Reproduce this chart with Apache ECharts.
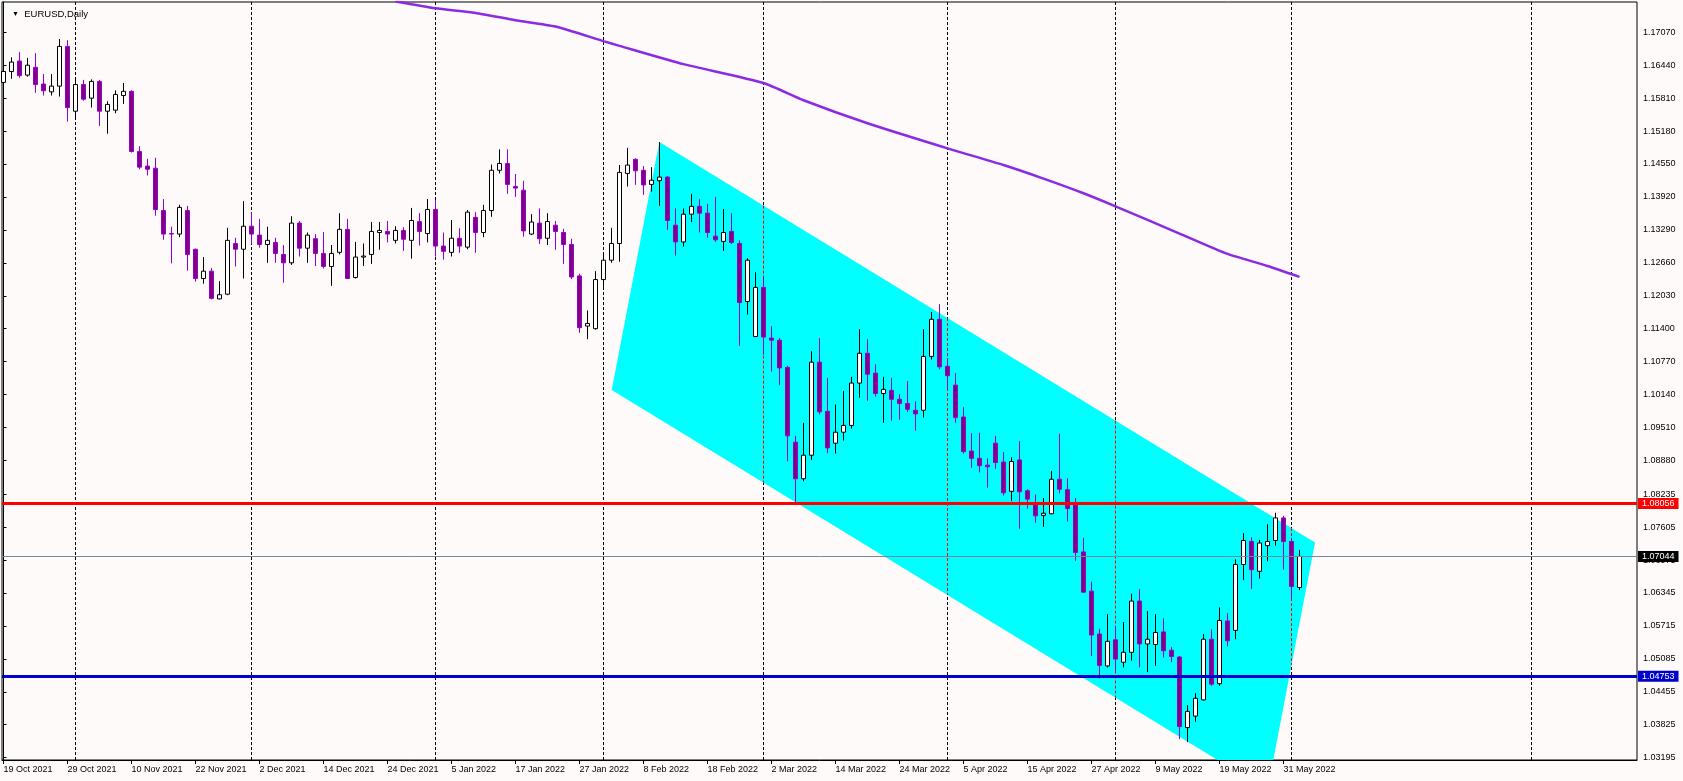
<!DOCTYPE html>
<html>
<head>
<meta charset="utf-8">
<script src="https://cdn.jsdelivr.net/npm/echarts@6/dist/echarts.min.js"></script>
<style>
html,body{margin:0;padding:0;background:#FFFAFA;}
#chart{width:1683px;height:781px;}
</style>
</head>
<body>
<div id="chart"></div>
<script>
// ---- data ----
const symbolTitle = 'EURUSD,Daily';
const dateLabels = ['19 Oct 2021','29 Oct 2021','10 Nov 2021','22 Nov 2021','2 Dec 2021','14 Dec 2021','24 Dec 2021','5 Jan 2022','17 Jan 2022','27 Jan 2022','8 Feb 2022','18 Feb 2022','2 Mar 2022','14 Mar 2022','24 Mar 2022','5 Apr 2022','15 Apr 2022','27 Apr 2022','9 May 2022','19 May 2022','31 May 2022'];
const labelEvery = 8;
const priceTicks = [1.17070,1.16440,1.15810,1.15180,1.14550,1.13920,1.13290,1.12660,1.12030,1.11400,1.10770,1.10140,1.09510,1.08880,1.08235,1.07605,1.06975,1.06345,1.05715,1.05085,1.04455,1.03825,1.03195];

const open = [1.1611,1.1632,1.1652,1.1625,1.1640,1.1608,1.1593,1.1604,1.1680,1.1556,
1.1607,1.1581,1.1613,1.1556,1.1558,1.1586,1.1594,1.1479,1.1451,1.1447,
1.1366,1.1322,1.1321,1.1366,1.1292,1.1236,1.1250,1.1197,1.1206,1.1303,
1.1292,1.1336,1.1319,1.1301,1.1305,1.1282,1.1266,1.1342,1.1294,1.1312,
1.1284,1.1259,1.1286,1.1330,1.1238,1.1277,1.1282,1.1324,1.1326,1.1309,
1.1328,1.1309,1.1345,1.1322,1.1368,1.1298,1.1286,1.1313,1.1296,1.1353,
1.1324,1.1366,1.1443,1.1456,1.1412,1.1405,1.1321,1.1342,1.1313,1.1338,
1.1324,1.1301,1.1241,1.1145,1.1140,1.1234,1.1271,1.1303,1.1437,1.1464,
1.1443,1.1416,1.1423,1.1430,1.1338,1.1306,1.1359,1.1374,1.1361,1.1317,
1.1307,1.1326,1.1303,1.1192,1.1125,1.1219,1.1122,1.1118,1.1066,1.0923,
1.0853,1.0898,1.1076,1.0982,1.0921,1.0942,1.0955,1.1036,1.1093,1.1055,
1.1016,1.1022,1.1005,1.0997,1.0984,1.0984,1.1087,1.1158,1.1068,1.1032,
1.0971,1.0906,1.0892,1.0879,1.0921,1.0885,1.0829,1.0889,1.0830,1.0805,
1.0783,1.0786,1.0852,1.0832,1.0807,1.0713,1.0638,1.0556,1.0495,1.0545,
1.0502,1.0521,1.0619,1.0537,1.0536,1.0560,1.0525,1.0512,1.0377,1.0399,
1.0430,1.0546,1.0461,1.0581,1.0563,1.0689,1.0733,1.0676,1.0725,1.0735,
1.0778,1.0733,1.0645];
const high = [1.1671,1.1659,1.1669,1.1658,1.1667,1.1627,1.1627,1.1694,1.1692,1.1616,
1.1616,1.1617,1.1616,1.1575,1.1596,1.1610,1.1596,1.1489,1.1465,1.1467,
1.1388,1.1335,1.1377,1.1375,1.1293,1.1277,1.1256,1.1231,1.1333,1.1314,
1.1384,1.1362,1.1350,1.1335,1.1314,1.1300,1.1355,1.1346,1.1324,1.1321,
1.1325,1.1300,1.1361,1.1350,1.1306,1.1303,1.1344,1.1344,1.1346,1.1336,
1.1334,1.1371,1.1361,1.1388,1.1386,1.1324,1.1348,1.1332,1.1367,1.1363,
1.1377,1.1454,1.1483,1.1483,1.1436,1.1423,1.1359,1.1370,1.1361,1.1346,
1.1331,1.1312,1.1245,1.1175,1.1250,1.1282,1.1333,1.1453,1.1486,1.1466,
1.1451,1.1449,1.1497,1.1432,1.1370,1.1370,1.1398,1.1388,1.1379,1.1392,
1.1369,1.1361,1.1309,1.1275,1.1248,1.1237,1.1145,1.1122,1.1069,1.0935,
1.0960,1.1097,1.1122,1.1046,1.0995,1.1021,1.1048,1.1139,1.1120,1.1072,
1.1048,1.1046,1.1015,1.1040,1.1001,1.1139,1.1172,1.1187,1.1078,1.1055,
1.0990,1.0940,1.0941,1.0892,1.0935,1.0904,1.0894,1.0925,1.0833,1.0823,
1.0816,1.0868,1.0939,1.0854,1.0816,1.0740,1.0656,1.0566,1.0594,1.0570,
1.0579,1.0633,1.0642,1.0600,1.0594,1.0586,1.0531,1.0514,1.0420,1.0443,
1.0556,1.0565,1.0607,1.0596,1.0699,1.0749,1.0741,1.0736,1.0766,1.0788,
1.0782,1.0740,1.0717];
const low = [1.1609,1.1618,1.1620,1.1622,1.1591,1.1586,1.1586,1.1584,1.1536,1.1542,
1.1576,1.1563,1.1528,1.1513,1.1552,1.1570,1.1477,1.1445,1.1433,1.1356,
1.1310,1.1265,1.1315,1.1251,1.1230,1.1226,1.1196,1.1196,1.1204,1.1259,
1.1236,1.1302,1.1295,1.1266,1.1266,1.1228,1.1262,1.1278,1.1266,1.1260,
1.1255,1.1222,1.1282,1.1235,1.1236,1.1260,1.1264,1.1291,1.1305,1.1303,
1.1289,1.1274,1.1299,1.1305,1.1278,1.1272,1.1278,1.1285,1.1292,1.1285,
1.1315,1.1354,1.1437,1.1398,1.1392,1.1316,1.1319,1.1302,1.1300,1.1291,
1.1264,1.1235,1.1132,1.1120,1.1138,1.1220,1.1266,1.1268,1.1412,1.1415,
1.1396,1.1402,1.1375,1.1329,1.1280,1.1297,1.1344,1.1324,1.1314,1.1306,
1.1289,1.1302,1.1107,1.1167,1.1124,1.1090,1.1058,1.1032,1.0886,1.0807,
1.0848,1.0889,1.0976,1.0902,1.0901,1.0926,1.0949,1.1008,1.1002,1.1010,
1.0960,1.0964,1.0966,1.0981,1.0945,1.0970,1.1081,1.1062,1.1025,1.0960,
1.0901,1.0874,1.0865,1.0836,1.0872,1.0821,1.0810,1.0757,1.0796,1.0769,
1.0761,1.0785,1.0825,1.0771,1.0696,1.0635,1.0514,1.0471,1.0492,1.0486,
1.0492,1.0505,1.0492,1.0483,1.0495,1.0511,1.0502,1.0355,1.0349,1.0388,
1.0429,1.0457,1.0457,1.0532,1.0546,1.0659,1.0642,1.0662,1.0695,1.0725,
1.0679,1.0624,1.0640];
const close = [1.1632,1.1650,1.1624,1.1644,1.1607,1.1595,1.1604,1.1680,1.1563,1.1607,
1.1579,1.1613,1.1556,1.1569,1.1588,1.1594,1.1479,1.1449,1.1445,1.1368,
1.1321,1.1321,1.1372,1.1282,1.1236,1.1250,1.1198,1.1205,1.1309,1.1292,
1.1336,1.1321,1.1301,1.1309,1.1284,1.1266,1.1342,1.1294,1.1319,1.1284,
1.1259,1.1284,1.1330,1.1236,1.1277,1.1279,1.1326,1.1328,1.1321,1.1328,
1.1311,1.1347,1.1326,1.1368,1.1298,1.1288,1.1313,1.1298,1.1363,1.1324,
1.1366,1.1443,1.1456,1.1416,1.1409,1.1327,1.1344,1.1312,1.1345,1.1326,
1.1301,1.1239,1.1142,1.1150,1.1234,1.1271,1.1303,1.1439,1.1453,1.1442,
1.1415,1.1424,1.1430,1.1347,1.1306,1.1359,1.1374,1.1361,1.1324,1.1310,
1.1324,1.1305,1.1190,1.1271,1.1219,1.1124,1.1118,1.1065,1.0935,1.0853,
1.0898,1.1076,1.0981,1.0912,1.0942,1.0955,1.1036,1.1093,1.1053,1.1016,
1.1024,1.1005,1.0997,1.0986,1.0977,1.1087,1.1158,1.1067,1.1050,1.0970,
1.0905,1.0892,1.0878,1.0876,1.0884,1.0826,1.0886,1.0828,1.0814,1.0782,
1.0787,1.0852,1.0833,1.0796,1.0712,1.0636,1.0554,1.0496,1.0542,1.0508,
1.0521,1.0619,1.0537,1.0546,1.0559,1.0524,1.0513,1.0379,1.0408,1.0433,
1.0546,1.0460,1.0582,1.0543,1.0689,1.0735,1.0679,1.0730,1.0733,1.0778,
1.0733,1.0647,1.07044];

// 200-day moving average, read at these bar positions
const maBars   = [49,54,59,64,69,75,77,85,95,100,108,118,125,130,135,139,147,153,158,162];
const maValues = [1.1766,1.1753,1.1744,1.1730,1.1718,1.1690,1.1681,1.1646,1.1610,1.1577,1.1533,1.1485,1.1453,1.1427,1.1399,1.1374,1.1322,1.1283,1.1260,1.1239];

// month-start grid lines (bar positions)
const monthBars = [9,31,54,75,95,118,139,161,191];

// equidistant channel (filled), corners in (bar, price)
const channelBars   = [81.98,163.94,157.99,76.03];
const channelPrices = [1.14971,1.07311,1.02568,1.10228];

// horizontal levels
const levels = [
  {value:1.08056, color:'#FF0000', width:3, bg:'#FF0000'},
  {value:1.04753, color:'#0000CD', width:3, bg:'#0000CD'},
  {value:1.07044, color:'#778899', width:1, bg:'#000000'}
];

// ---- chart ----
const yMin = 1.03150, yMax = 1.17649;
const font = 'Liberation Sans, Arial, sans-serif';
const chart = echarts.init(document.getElementById('chart'), null, {renderer:'canvas'});
const candleData = open.map((o,i)=>[i, o, close[i], low[i], high[i]]);
const tickBars = dateLabels.map((_,i)=>i*labelEvery);

chart.setOption({
  animation:false,
  backgroundColor:'#FFFAFA',
  title:{
    text:'{t|\u25BC}  ' + symbolTitle,
    left:7, top:4,
    textStyle:{fontSize:9.5, fontWeight:'normal', color:'#000', fontFamily:font,
      rich:{t:{fontSize:7, color:'#000'}}}
  },
  grid:{left:2, top:2, right:46, bottom:21, show:true, borderColor:'#000', borderWidth:1, backgroundColor:'#FFFAFA'},
  xAxis:{
    type:'value', min:-0.1875, max:204.1875,
    axisLine:{show:true, lineStyle:{color:'#000', width:1}},
    axisTick:{show:true, length:4, customValues:tickBars, lineStyle:{color:'#000'}},
    axisLabel:{customValues:tickBars, formatter:v=>dateLabels[Math.round(v/labelEvery)]||'',
      align:'left', margin:5, fontSize:9, color:'#000', fontFamily:font, lineHeight:10},
    splitLine:{show:false}
  },
  yAxis:{
    type:'value', position:'right', min:yMin, max:yMax, scale:true,
    axisLine:{show:true, lineStyle:{color:'#000', width:1}},
    axisTick:{show:true, length:3, customValues:priceTicks, lineStyle:{color:'#000'}},
    axisLabel:{customValues:priceTicks, formatter:v=>v.toFixed(5), margin:6, fontSize:9, color:'#000', fontFamily:font},
    splitLine:{show:false}
  },
  series:[
    {
      type:'custom', z:1, clip:true, silent:true,
      data:[[channelBars[0], channelPrices[0]]],
      renderItem:function(params, api){
        const children = [];
        monthBars.forEach(b=>{
          const p1 = api.coord([b, yMax]), p2 = api.coord([b, yMin]);
          const x = Math.round(p1[0]-0.5)+0.5;
          children.push({type:'line', shape:{x1:x, y1:p1[1], x2:x, y2:p2[1]},
            style:{stroke:'#000', lineWidth:1, lineDash:[3,2]}});
        });
        const pts = channelBars.map((b,i)=>api.coord([b, channelPrices[i]]));
        children.push({type:'polygon', shape:{points:pts}, style:{fill:'#00FFFF'}});
        monthBars.forEach(b=>{
          const ys = [];
          for(let i=0;i<4;i++){
            const j=(i+1)%4, b0=channelBars[i], b1=channelBars[j];
            if(b0!==b1 && (b-b0)*(b-b1)<=0){
              const t=(b-b0)/(b1-b0);
              ys.push(channelPrices[i]+t*(channelPrices[j]-channelPrices[i]));
            }
          }
          if(ys.length>=2){
            const top=Math.min(Math.max(...ys), yMax), bot=Math.max(Math.min(...ys), yMin);
            const p1=api.coord([b, top]), p2=api.coord([b, bot]);
            const x = Math.round(p1[0]-0.5)+0.5;
            children.push({type:'line', shape:{x1:x, y1:p1[1], x2:x, y2:p2[1]},
              style:{stroke:'#FF0000', lineWidth:1, lineDash:[3,2]}});
          }
        });
        return {type:'group', children:children};
      }
    },
    {
      type:'candlestick', z:3, barWidth:4, silent:true,
      data:candleData,
      itemStyle:{color:'#FFFFFF', color0:'#800080', borderColor:'#000000', borderColor0:'#9400D3', borderWidth:1}
    },
    {
      type:'line', z:4, silent:true, showSymbol:false, smooth:0.2,
      data:maBars.map((b,i)=>[b, maValues[i]]),
      lineStyle:{color:'#8A2BE2', width:2.5}
    },
    {
      type:'line', z:5, silent:true, data:[],
      markLine:{
        silent:true, symbol:'none', animation:false, precision:5,
        data:levels.map(l=>({
          yAxis:l.value,
          lineStyle:{color:l.color, width:l.width, type:'solid'},
          label:{show:true, position:'end', distance:1, formatter:()=>l.value.toFixed(5),
            color:'#FFFFFF', backgroundColor:l.bg, padding:[1,4,1,4], fontSize:9, fontFamily:font, lineHeight:9}
        }))
      }
    }
  ]
});
</script>
</body>
</html>
